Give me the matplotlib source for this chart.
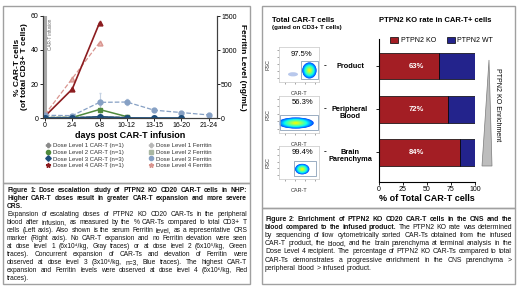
import numpy as np
import matplotlib
matplotlib.use("Agg")
import matplotlib.pyplot as plt
from matplotlib.patches import Rectangle, Ellipse, Polygon
from matplotlib.lines import Line2D

plt.rcParams['font.family'] = ['Liberation Sans', 'DejaVu Sans']

# ---- data: figure 1 (NHP dose escalation) ----
days = ['0', '2-4', '6-8', '10-12', '13-15', '16-20', '21-24']
car_d1 = [0.1, 0.1, 0.4, 0.2]
car_d2 = [0.2, 0.3, 5.0, 0.8]
car_d3 = [0.5, 0.8, 18.5, 1.5, 0.5, 0.5]
car_d3_err = [0.5, 0.5, 7.0, 0.5, 0.3, 0.3]
car_d4 = [1.0, 17.0, 56.0]
fer_d1 = [15, 15, 20, 15]
fer_d2 = [10, 12, 15, 12]
fer_d3 = [40, 35, 230, 235, 115, 80, 45]
fer_d3_err = [10, 10, 140, 50, 15, 10, 5]
fer_d4 = [50, 580, 1110]

# ---- data: figure 2 (PTPN2 KO enrichment) ----
sites = ['Product', 'Peripheral\nBlood', 'Brain\nParenchyma']
ko_pct = [63, 72, 84]
gate_pct = ['97.5%', '56.3%', '99.4%']

W, H = 520, 292
fig = plt.figure(figsize=(5.2, 2.92), dpi=100)


def rect(x0, y0, x1, y1):
    return [x0 / W, 1 - y1 / H, (x1 - x0) / W, (y1 - y0) / H]


def ftext(x, y, s, **kw):
    return fig.text(x / W, 1 - y / H, s, **kw)


# panel frames
for x0, y0, x1, y1 in [(3, 6, 250, 183), (3, 183, 250, 284),
                       (262, 6, 515, 208), (262, 208, 515, 284)]:
    fig.patches.append(Rectangle((x0 / W, 1 - y1 / H), (x1 - x0) / W, (y1 - y0) / H,
                                 transform=fig.transFigure, fill=False,
                                 edgecolor='#a0a0a0', lw=1.0))

# ================= figure 1 chart =================
ax = fig.add_axes(rect(43, 16, 217, 118))
ax2 = ax.twinx()
x = np.arange(len(days))
ax.set_xlim(-0.07, 6.3)
ax.set_ylim(0, 60)
ax2.set_ylim(0, 1500)
ax.axvline(0, color='#a8a8a8', lw=2.2, zorder=0)
ax.text(0.13, 58.5, 'CAR-T infusion', rotation=90, va='top', ha='left',
        fontsize=3.3, color='#606060')

c1, c1f = '#8a8a8a', '#b8b8b8'
c2, c2f = '#4f8a3c', '#a9b7a2'
c3, c3f = '#1d4d7a', '#86a0c4'
c4, c4f = '#8c1c1f', '#d9958f'

ax2.errorbar(x[:len(fer_d3)], fer_d3, yerr=fer_d3_err, color=c3f, ls='--', lw=0.9,
             marker='o', ms=3.5, mfc=c3f, mec=c3f, ecolor='#c5d2e3', elinewidth=0.8, capsize=1)
ax2.plot(x[:len(fer_d4)], fer_d4, color=c4f, ls='--', lw=0.9, marker='^', ms=3.5, mfc='#e9b9b4', mec=c4f)
ax2.plot(x[:len(fer_d2)], fer_d2, color=c2f, ls='--', lw=0.8, marker='s', ms=2.5, mfc=c2f, mec=c2f)
ax2.plot(x[:len(fer_d1)], fer_d1, color=c1f, ls='--', lw=0.8, marker='D', ms=2.5, mfc='white', mec=c1f)

ax2.errorbar(x[:len(car_d3)], car_d3, yerr=np.array(car_d3_err) / 60 * 1500, color=c3, lw=1.2,
             marker='o', ms=4, ecolor='#b8c4d4', elinewidth=0.8, capsize=1)
ax2.plot(x[:len(car_d2)], np.array(car_d2) / 60 * 1500, color=c2, lw=1.1, marker='s', ms=3.2)
ax2.plot(x[:len(car_d1)], np.array(car_d1) / 60 * 1500, color=c1, lw=0.9, marker='D', ms=2.5)
ax2.plot(x[:len(car_d4)], np.array(car_d4) / 60 * 1500, color=c4, lw=1.2, marker='^', ms=3.5)

for a in (ax, ax2):
    a.spines['top'].set_visible(False)
    for s in a.spines.values():
        s.set_color('#404040')
        s.set_linewidth(0.8)
    a.tick_params(labelsize=5, length=2, width=0.6, pad=1)
ax.set_xticks(x)
ax.set_xticklabels(days)
ax.set_yticks([0, 20, 40, 60])
ax2.set_yticks([0, 500, 1000, 1500])
ax.set_xlabel('days post CAR-T infusion', fontsize=6.5, fontweight='bold', labelpad=1)
ax.set_ylabel('% CAR-T cells\n(of total CD3+ T cells)', fontsize=6, fontweight='bold',
              labelpad=2, linespacing=1.1)
ax2.set_ylabel('Ferritin Level (ng/mL)', fontsize=6, fontweight='bold', rotation=270, labelpad=7)

h1 = [Line2D([], [], ls='none', marker='P', ms=3, color=c1),
      Line2D([], [], ls='none', marker='o', ms=3, color=c2),
      Line2D([], [], ls='none', marker='D', ms=2.8, color=c3),
      Line2D([], [], ls='none', marker='*', ms=3.5, color=c4)]
h2 = [Line2D([], [], ls='none', marker='P', ms=3, color=c1f),
      Line2D([], [], ls='none', marker='s', ms=2.8, color=c2f),
      Line2D([], [], ls='none', marker='o', ms=3, color=c3f),
      Line2D([], [], ls='none', marker='*', ms=3.5, color=c4f)]
l1 = ['Dose Level 1 CAR-T (n=1)', 'Dose Level 2 CAR-T (n=1)',
      'Dose Level 3 CAR-T (n=3)', 'Dose Level 4 CAR-T (n=1)']
l2 = ['Dose Level 1 Ferritin', 'Dose Level 2 Ferritin',
      'Dose Level 3 Ferritin', 'Dose Level 4 Ferritin']
for hs, ls, xl in [(h1, l1, 42), (h2, l2, 145)]:
    lg = fig.legend(hs, ls, loc='upper left', bbox_to_anchor=(xl / W, 1 - 140 / H),
                    frameon=False, fontsize=4.3, labelspacing=0.25, handlelength=1,
                    handletextpad=0.4, borderpad=0, labelcolor='#333333')

# ================= figure 2 =================
ftext(272, 20, 'Total CAR-T cells', fontsize=5.5, fontweight='bold', va='center')
ftext(272, 28, '(gated on CD3+ T cells)', fontsize=4.5, fontweight='bold', va='center')
ftext(379, 20, 'PTPN2 KO rate in CAR-T+ cells', fontsize=5.5, fontweight='bold', va='center')

flow_boxes = [(279, 47, 319, 82), (279, 96, 319, 133), (279, 146, 319, 179)]
blobs = [dict(c=(0.76, 0.33), w=0.36, h=0.46, gate=(0.56, 0.1, 0.41, 0.5), txt=(0.55, 0.78),
              halo=(0.35, 0.22, 0.25, 0.12)),
         dict(c=(0.42, 0.27), w=0.9, h=0.3, gate=(0.02, 0.07, 0.95, 0.42), txt=(0.6, 0.82),
              halo=None),
         dict(c=(0.58, 0.3), w=0.36, h=0.32, gate=(0.38, 0.1, 0.55, 0.45), txt=(0.58, 0.8),
              halo=None)]
cmap = plt.get_cmap('jet')
for box, b, pct in zip(flow_boxes, blobs, gate_pct):
    fa = fig.add_axes(rect(*box))
    fa.set_xlim(0, 1)
    fa.set_ylim(0, 1)
    if b['halo'] is not None:
        hx, hy, hw, hh = b['halo']
        fa.add_patch(Ellipse((hx, hy), hw, hh, color='#b8c8ec', lw=0))
    n = 24
    for i in range(n):
        k = 1 - i / n
        fa.add_patch(Ellipse(b['c'], b['w'] * k, b['h'] * k,
                             color=cmap(0.2 + 0.48 * i / n), lw=0))
    g = b['gate']
    fa.add_patch(Rectangle((g[0], g[1]), g[2], g[3], fill=False, ec='#8aa0b8', lw=0.6))
    fa.text(*b['txt'], pct, transform=fa.transAxes, ha='center', va='center', fontsize=5.5)
    fa.set_xticks([0.15, 0.4, 0.65, 0.9])
    fa.set_yticks([0.12, 0.32, 0.52, 0.72, 0.92])
    fa.set_xticklabels([])
    fa.set_yticklabels([])
    fa.tick_params(length=1.2, width=0.4, color='#606060')
    for s in fa.spines.values():
        s.set_color('#d0d0d0')
        s.set_linewidth(0.6)
    fa.set_xlabel('CAR-T', fontsize=4, labelpad=2, color='#333333')
    fa.set_ylabel('FSC', fontsize=4, labelpad=1.5, color='#333333')

site_y = [66, 109, 152]
for lab, yy in zip(sites, site_y):
    ftext(325, yy, '-', fontsize=6, fontweight='bold', va='center', ha='center')
    ftext(350, yy + (0 if '\n' not in lab else 4), lab, fontsize=5.3, fontweight='bold',
          va='center', ha='center', linespacing=1.15)

bx = fig.add_axes(rect(379, 39, 475, 182))
yb = np.arange(len(sites))
wt_pct = [100 - v for v in ko_pct]
bx.barh(yb, ko_pct, height=0.62, color='#a31e24', edgecolor='black', lw=0.5)
bx.barh(yb, wt_pct, left=ko_pct, height=0.62, color='#23238c', edgecolor='black', lw=0.5)
for yv, v in zip(yb, ko_pct):
    bx.text(39, yv, f'{v}%', color='white', fontweight='bold', fontsize=5.5,
            ha='center', va='center')
bx.set_xlim(0, 100)
bx.set_ylim(2.69, -0.63)
bx.set_yticks(yb)
bx.set_yticklabels([])
bx.set_xticks([0, 25, 50, 75, 100])
bx.tick_params(labelsize=5, length=2, width=0.6, pad=1)
for s in ['top', 'right']:
    bx.spines[s].set_visible(False)
for s in ['left', 'bottom']:
    bx.spines[s].set_linewidth(0.8)
bx.set_xlabel('% of Total CAR-T cells', fontsize=6.5, fontweight='bold', labelpad=0.5)
lh = [Rectangle((0, 0), 1, 1, fc='#a31e24', ec='black', lw=0.5),
      Rectangle((0, 0), 1, 1, fc='#23238c', ec='black', lw=0.5)]
bx.legend(lh, ['PTPN2 KO', 'PTPN2 WT'], loc='upper left', bbox_to_anchor=(0.08, 1.04),
          ncol=2, frameon=False, fontsize=5, handlelength=1.1, handleheight=0.9,
          handletextpad=0.4, columnspacing=1.6, borderpad=0)

fig.patches.append(Polygon([(489 / W, 1 - 60 / H), (482 / W, 1 - 166 / H), (492 / W, 1 - 166 / H)],
                           closed=True, transform=fig.transFigure, fc='#bdbdbd', ec='#7a7a7a', lw=0.5))
ftext(498, 105, 'PTPN2 KO Enrichment', rotation=270, fontsize=5, va='center', ha='center')

# ================= captions =================
renderer = fig.canvas.get_renderer()


def text_width(s, size, wt):
    t = fig.text(0, 0, s, fontsize=size, fontweight=wt)
    w = t.get_window_extent(renderer).width
    t.remove()
    return w


def line_words(parts):
    words = []
    for txt, wt in parts:
        for wd in txt.split():
            words.append((wd, wt))
    return words


def natural_width(parts, size):
    words = line_words(parts)
    sp = text_width('a a', size, 'normal') - text_width('aa', size, 'normal')
    return sum(text_width(wd, size, wt) for wd, wt in words) + sp * (len(words) - 1)


def put_caption(lines, x0, x1, y0, dy):
    base = 5.0
    widest = max(natural_width(p, base) for p, j in lines)
    size = base * (x1 - x0) / widest
    sp = text_width('a a', size, 'normal') - text_width('aa', size, 'normal')
    for i, (parts, just) in enumerate(lines):
        words = line_words(parts)
        y = y0 + dy * i + 2
        objs = [ftext(0, y, wd, fontsize=size, fontweight=wt, va='baseline', ha='left',
                      color='#111111') for wd, wt in words]
        widths = [t.get_window_extent(renderer).width for t in objs]
        gap = (x1 - x0 - sum(widths)) / (len(words) - 1) if just and len(words) > 1 else sp
        xc = x0
        for t, w in zip(objs, widths):
            t.set_x(xc / W)
            xc += w + gap


B, N = 'bold', 'normal'
cap1 = [
    ([('Figure 1: Dose escalation study of PTPN2 KO CD20 CAR-T cells in NHP:', B)], True),
    ([('Higher CAR-T doses result in greater CAR-T expansion and more severe', B)], True),
    ([('CRS.', B)], False),
    ([('Expansion of escalating doses of PTPN2 KO CD20 CAR-Ts in the peripheral', N)], True),
    ([('blood after infusion, as measured by the % CAR-Ts compared to total CD3+ T', N)], True),
    ([('cells (Left axis). Also shown is the serum Ferritin level, as a representative CRS', N)], True),
    ([('marker (Right axis). No CAR-T expansion and no Ferritin elevation were seen', N)], True),
    ([('at dose level 1 (6x10⁴/kg, Gray traces) or at dose level 2 (6x10⁵/kg, Green', N)], True),
    ([('traces). Concurrent expansion of CAR-Ts and elevation of Ferritin were', N)], True),
    ([('observed at dose level 3 (3x10⁶/kg, n=3, Blue traces). The highest CAR-T', N)], True),
    ([('expansion and Ferritin levels were observed at dose level 4 (6x10⁶/kg, Red', N)], True),
    ([('traces).', N)], False),
]
put_caption(cap1, 7, 247, 190, 8.0)

cap2 = [
    ([('Figure 2: Enrichment of PTPN2 KO CD20 CAR-T cells in the CNS and the', B)], True),
    ([('blood compared to the infused product.', B), ('The PTPN2 KO rate was determined', N)], True),
    ([('by sequencing of flow cytometrically sorted CAR-Ts obtained from the infused', N)], True),
    ([('CAR-T product, the blood, and the brain parenchyma at terminal analysis in the', N)], True),
    ([('Dose Level 4 recipient. The percentage of PTPN2 KO CAR-Ts compared to total', N)], True),
    ([('CAR-Ts demonstrates a progressive enrichment in the CNS parenchyma >', N)], True),
    ([('peripheral blood > infused product.', N)], False),
]
put_caption(cap2, 265, 512, 219, 8.1)

fig.savefig('out.png', dpi=100)
